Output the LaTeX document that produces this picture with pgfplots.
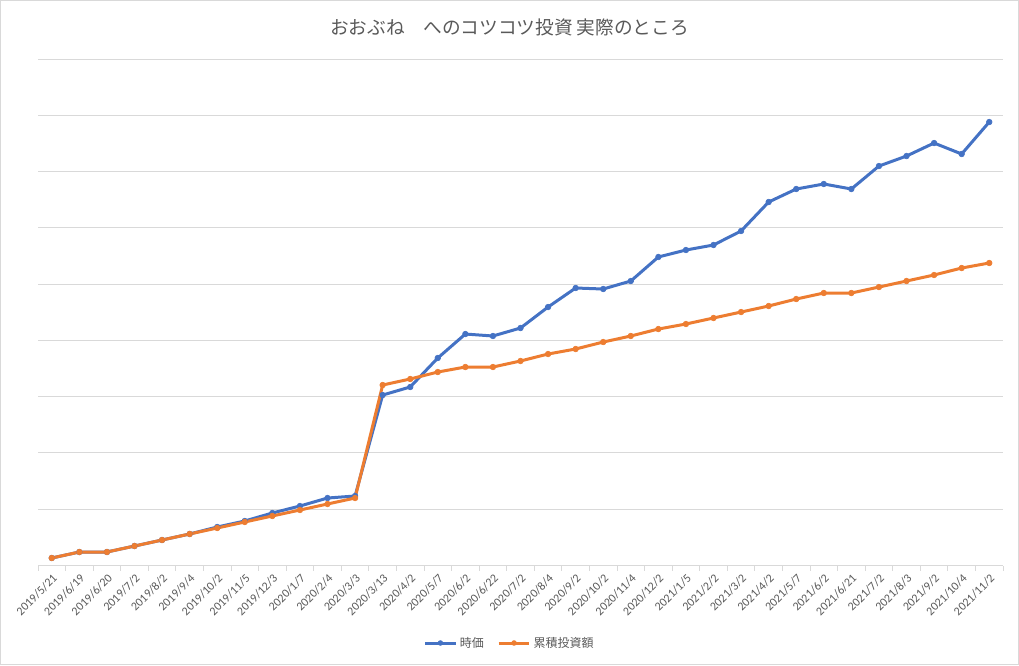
\documentclass[border=0pt]{standalone}
\usepackage{pgfplots}
\pgfplotsset{compat=1.18}
\usepackage{pgfplotstable}
\usepackage{fontspec}
\setmainfont{Carlito}
\newfontfamily\jp{Noto Sans CJK JP}
\definecolor{sblue}{HTML}{4472C4}
\definecolor{sorange}{HTML}{ED7D31}
\definecolor{txtgray}{HTML}{595959}
\definecolor{gridgray}{HTML}{D9D9D9}

% i: category index, jika = market value, ruiseki = cumulative investment
\pgfplotstableread{
i  jika    ruiseki
0  13300   13300
1  24000   24000
2  24000   24000
3  34600   34600
4  45300   45300
5  56000   56000
6  68400   66600
7  79100   77300
8  93300   88000
9  105700  98600
10 119900  109300
11 123500  119900
12 302900  320700
13 317200  331400
14 368700  343800
15 411300  352700
16 407800  352700
17 422000  363400
18 459300  375800
19 493100  384700
20 491300  397100
21 505500  407800
22 548200  420200
23 560600  429100
24 569500  439800
25 594400  450400
26 645900  461100
27 669000  473500
28 677900  484200
29 669000  484200
30 709800  494800
31 727600  505500
32 750700  516200
33 731200  528600
34 788000  537500
}\data

\begin{document}
\begin{tikzpicture}[x=0.75pt,y=0.75pt]
\draw[gridgray, line width=0.75pt] (0.5,0.5) rectangle (1018.5,664.5);
\node[text=txtgray, font=\jp\fontsize{14}{16}\selectfont] at (509.5,638) {おおぶね　へのコツコツ投資 実際のところ};
\begin{axis}[
  at={(28.5pt,74.625pt)}, anchor=south west,
  width=723.75pt, height=379.875pt, scale only axis,
  xmin=-0.5, xmax=34.5, ymin=0, ymax=900000,
  scaled y ticks=false,
  axis x line*=bottom, axis y line*=left,
  x axis line style={draw=gridgray, line width=0.75pt, -},
  y axis line style={draw=none},
  ytick={100000,200000,...,900000}, yticklabels={},
  major y tick style={draw=none},
  ymajorgrids, grid style={gridgray, line width=0.75pt},
  xtick={0,...,34},
  xticklabels={2019/5/21,2019/6/19,2019/6/20,2019/7/2,2019/8/2,2019/9/4,2019/10/2,2019/11/5,2019/12/3,2020/1/7,2020/2/4,2020/3/3,2020/3/13,2020/4/2,2020/5/7,2020/6/2,2020/6/22,2020/7/2,2020/8/4,2020/9/2,2020/10/2,2020/11/4,2020/12/2,2021/1/5,2021/2/2,2021/3/2,2021/4/2,2021/5/7,2021/6/2,2021/6/21,2021/7/2,2021/8/3,2021/9/2,2021/10/4,2021/11/2},
  major x tick style={draw=none},
  minor xtick={-0.5,0.5,...,34.5},
  minor x tick style={draw=gridgray, line width=0.75pt},
  minor tick length=3.75pt,
  tick align=outside,
  xticklabel style={rotate=45, anchor=north east, font=\fontsize{9}{10}\selectfont, text=txtgray, inner sep=1pt},
  /pgf/number format/assume math mode=true,
  legend style={at={(0.489,-0.153)}, anchor=center, draw=none, fill=none,
    legend columns=2, font=\jp\fontsize{9}{11}\selectfont, text=txtgray,
    /tikz/every even column/.append style={column sep=8pt}},
  legend image code/.code={\draw[mark repeat=2,mark phase=2,#1,mark size=1.8pt] plot coordinates {(0pt,0pt) (11.5pt,0pt) (23pt,0pt)};},
  every axis plot/.append style={line width=2.25pt, line join=round, mark=*, mark size=2.1pt},
]
\addplot[sblue, mark options={fill=sblue, draw=sblue, line width=0.5pt}] table[x=i, y=jika] {\data};
\addlegendentry{時価}
\addplot[sorange, mark options={fill=sorange, draw=sorange, line width=0.5pt}] table[x=i, y=ruiseki] {\data};
\addlegendentry{累積投資額}
\end{axis}
\end{tikzpicture}
\end{document}
